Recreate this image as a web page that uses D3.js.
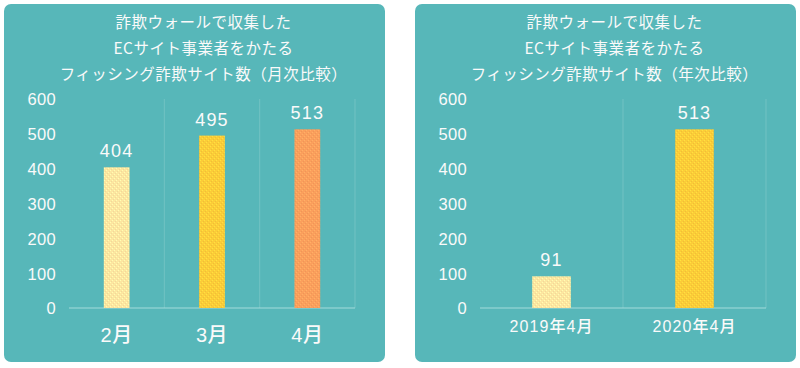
<!DOCTYPE html>
<html><head><meta charset="utf-8">
<script src="https://cdn.jsdelivr.net/npm/d3@7"></script>
<style>
html,body{margin:0;padding:0;background:#fff;}
svg{display:block;}
text{font-family:"Liberation Sans","Noto Sans CJK JP",sans-serif;fill:#fafafa;}
text.ttl{font-family:"Noto Sans CJK JP",sans-serif;}
</style></head>
<body>
<svg id="c" width="800" height="368"></svg>
<script>
// ---- data ----
const titleLines1 = ["詐欺ウォールで収集した", "ECサイト事業者をかたる", "フィッシング詐欺サイト数（月次比較）"];
const titleLines2 = ["詐欺ウォールで収集した", "ECサイト事業者をかたる", "フィッシング詐欺サイト数（年次比較）"];
const monthCategories = ["2月", "3月", "4月"];
const monthValues = [404, 495, 513];
const yearCategories = ["2019年4月", "2020年4月"];
const yearValues = [91, 513];
const yTicks = [0, 100, 200, 300, 400, 500, 600];

const colors = {light: "#fde6a0", yellow: "#fccc38", orange: "#fb9f5c"};
const monthColors = ["light", "yellow", "orange"];
const yearColors = ["light", "yellow"];

const FONT = '"Liberation Sans","Noto Sans CJK JP",sans-serif';
const svg = d3.select("#c");
const defs = svg.append("defs");
Object.entries(colors).forEach(([k, c]) => {
  const p = defs.append("pattern").attr("id", "pat-" + k)
    .attr("width", 4).attr("height", 4).attr("patternUnits", "userSpaceOnUse");
  p.append("rect").attr("width", 4).attr("height", 4).attr("fill", c);
  const lighter = d3.color(c).brighter(0.3);
  p.append("rect").attr("x", 0).attr("y", 0).attr("width", 1).attr("height", 1).attr("fill", lighter);
  p.append("rect").attr("x", 2).attr("y", 2).attr("width", 1).attr("height", 1).attr("fill", lighter);
  const darker = d3.color(c).darker(0.15);
  p.append("rect").attr("x", 1).attr("y", 3).attr("width", 1).attr("height", 1).attr("fill", darker);
  p.append("rect").attr("x", 3).attr("y", 1).attr("width", 1).attr("height", 1).attr("fill", darker);
});

function drawPanel(o) {
  const g = svg.append("g");
  g.append("rect").attr("x", o.px).attr("y", 4).attr("width", o.pw).attr("height", 358)
    .attr("rx", 7).attr("fill", "#57b7b9");
  // title
  const tc = o.px + o.pw / 2 + 9;
  o.title.forEach((t, i) => {
    g.append("text").attr("class", "ttl").attr("x", tc).attr("y", 28 + i * 26).attr("text-anchor", "middle")
      .attr("font-size", 15.5).attr("letter-spacing", 0.5).text(t);
  });
  const x = d3.scaleBand().domain(o.cats).range([o.x0, o.x1]).paddingInner(0).paddingOuter(0);
  const y = d3.scaleLinear().domain([0, 600]).range([308, 99]);
  // vertical grid lines at band boundaries (excluding the left edge)
  const bounds = o.cats.map((c, i) => x(c) + x.bandwidth());
  g.selectAll(".vg").data(bounds).join("line")
    .attr("x1", d => d).attr("x2", d => d).attr("y1", y(600)).attr("y2", y(0))
    .attr("stroke", "#72c2c3").attr("stroke-width", 1);
  // baseline
  g.append("line").attr("x1", o.x0).attr("x2", o.x1).attr("y1", y(0)).attr("y2", y(0))
    .attr("stroke", "#a4dbdb").attr("stroke-width", 1.2);
  // y axis labels
  const ya = g.append("g").attr("transform", `translate(${o.x0 - 13},0)`)
    .call(d3.axisLeft(y).tickValues(yTicks).tickSize(0).tickPadding(0));
  ya.select(".domain").remove();
  ya.selectAll("text").attr("font-size", 16.5).style("font-family", FONT)
    .attr("fill", "#fafafa").attr("dy", "0.36em").attr("letter-spacing", 0.3);
  // bars
  const bw = x.bandwidth() * 0.27;
  g.selectAll(".bar").data(o.vals).join("rect")
    .attr("x", (d, i) => x(o.cats[i]) + x.bandwidth() / 2 - bw / 2)
    .attr("y", d => y(d)).attr("width", bw).attr("height", d => y(0) - y(d))
    .attr("fill", (d, i) => `url(#pat-${o.cols[i]})`);
  // value labels
  g.selectAll(".vl").data(o.vals).join("text")
    .attr("x", (d, i) => x(o.cats[i]) + x.bandwidth() / 2)
    .attr("y", d => y(d) - 10).attr("text-anchor", "middle")
    .attr("font-size", 18).attr("letter-spacing", 1.2).text(d => d);
  // x axis labels
  const xa = g.append("g").attr("transform", `translate(0,${y(0)})`)
    .call(d3.axisBottom(x).tickSize(0).tickPadding(0));
  xa.select(".domain").remove();
  xa.selectAll("text").attr("font-size", o.xfs).attr("letter-spacing", o.xls)
    .style("font-family", FONT).attr("font-weight", 500)
    .attr("fill", "#fafafa").attr("y", o.xy).attr("dy", 0);
}

drawPanel({px: 4, pw: 381, title: titleLines1, cats: monthCategories, vals: monthValues,
  cols: monthColors, x0: 69, x1: 355, xfs: 20, xls: 0.5, xy: 34});
drawPanel({px: 415, pw: 381, title: titleLines2, cats: yearCategories, vals: yearValues,
  cols: yearColors, x0: 480, x1: 766, xfs: 16, xls: 1.1, xy: 24});
</script>
</body></html>
